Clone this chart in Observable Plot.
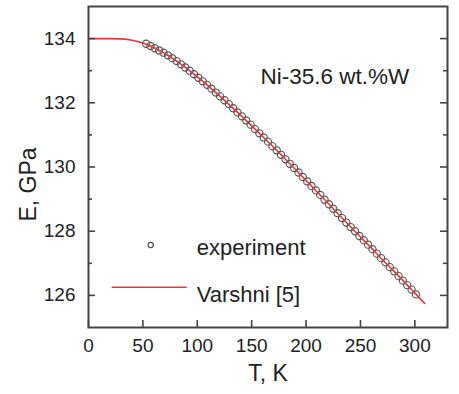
<!DOCTYPE html>
<html><head><meta charset="utf-8">
<script src="https://cdn.jsdelivr.net/npm/d3@7"></script>
<script src="https://cdn.jsdelivr.net/npm/@observablehq/plot@0.6"></script>
<style>body{margin:0;background:#fff} #chart{width:459px;height:394px}</style>
</head><body><div id="chart"></div>
<script>
// Experimental points (T in K, E in GPa)
const expT = [53,57,61,65,69,73,77,81,85,89,93,97,101,105,109,113,117,121,125,129,133,137,141,145,149,153,157,161,165,169,173,177,181,185,189,193,197,201,205,209,213,217,221,225,229,233,237,241,245,249,253,257,261,265,269,273,277,281,285,289,293,297,301];
const expE = [133.84,133.77,133.70,133.63,133.56,133.48,133.39,133.30,133.20,133.10,133.00,132.89,132.78,132.67,132.56,132.44,132.32,132.20,132.08,131.96,131.83,131.70,131.58,131.45,131.32,131.18,131.05,130.92,130.79,130.65,130.52,130.38,130.24,130.10,129.97,129.83,129.69,129.55,129.41,129.27,129.13,128.98,128.84,128.70,128.56,128.41,128.27,128.13,128.00,127.85,127.72,127.58,127.44,127.30,127.16,127.03,126.88,126.75,126.60,126.46,126.32,126.18,126.03];
// Varshni fit curve
const fitT = [0,10,20,30,40,50,60,70,80,90,100,110,120,130,140,150,160,170,180,190,200,210,220,230,240,250,260,270,280,290,300,309];
const fitE = [134.00,134.00,134.00,133.99,133.95,133.86,133.72,133.54,133.32,133.08,132.81,132.53,132.23,131.92,131.61,131.28,130.95,130.62,130.28,129.93,129.58,129.23,128.88,128.52,128.17,127.82,127.48,127.12,126.78,126.43,126.07,125.75];

const xTicks = [0,50,100,150,200,250,300];
const yTicksMajor = [126,128,130,132,134];
const yTicksMinor = [127,129,131,133];
const xLabel = "T, K";
const yLabel = "E, GPa";
const sampleLabel = "Ni-35.6 wt.%W";
const legendLabels = ["experiment", "Varshni [5]"];

const FONT = "'Liberation Sans', Arial, Helvetica, sans-serif";
const INK = "#222";
const FRAME = "#444";
const RED = "#e23a3a";

const W = 459, H = 394, ML = 88, MR = 12, MT = 6, MB = 67;
const FW = W - ML - MR, FH = H - MT - MB;
const MAJ = 7, MIN = 4;

const expData = expT.map((t, i) => ({T: t, E: expE[i]}));
const fitData = fitT.map((t, i) => ({T: t, E: fitE[i]}));

const tickStyle = {stroke: FRAME, strokeWidth: 1.6};

const plot = Plot.plot({
  width: W,
  height: H,
  marginLeft: ML,
  marginRight: MR,
  marginTop: MT,
  marginBottom: MB,
  style: {fontFamily: FONT, fontSize: "19px", color: INK, background: "#fff"},
  x: {domain: [0, 330]},
  y: {domain: [125, 135]},
  marks: [
    Plot.dot(expData, {x: "T", y: "E", r: 3.6, stroke: "#555", strokeWidth: 1.1, fill: "none"}),
    Plot.line(fitData, {x: "T", y: "E", stroke: RED, strokeWidth: 1.6, curve: "monotone-x"}),
    Plot.axisX({ticks: xTicks, tickSize: 0, tickPadding: 11, label: null, fill: INK}),
    Plot.axisY({ticks: yTicksMajor, tickSize: 0, tickPadding: 13, label: null, fill: INK}),
    // inward ticks on bottom, left and right edges
    Plot.tickX(xTicks, {x: d => d, insetTop: FH - MAJ, ...tickStyle}),
    Plot.tickY(yTicksMajor, {y: d => d, insetRight: FW - MAJ, ...tickStyle}),
    Plot.tickY(yTicksMinor, {y: d => d, insetRight: FW - MIN, ...tickStyle}),
    Plot.tickY(yTicksMajor, {y: d => d, insetLeft: FW - MAJ, ...tickStyle}),
    Plot.tickY(yTicksMinor, {y: d => d, insetLeft: FW - MIN, ...tickStyle}),
    Plot.frame({stroke: FRAME, strokeWidth: 2}),
    Plot.text([xLabel], {frameAnchor: "bottom", dy: 46, lineAnchor: "middle", fontSize: 23, fill: INK}),
    Plot.text([sampleLabel], {frameAnchor: "top-left", dx: 172, dy: 70, textAnchor: "start", lineAnchor: "middle", fontSize: 22.5, fill: INK})
  ]
});
document.getElementById("chart").appendChild(plot);

// Rotated y label and legend
const svg = d3.select(plot);
svg.append("text")
  .attr("transform", `translate(${ML - 52},${MT + 178.5}) rotate(-90)`)
  .attr("text-anchor", "middle").attr("font-family", FONT).attr("font-size", 23).attr("fill", INK)
  .text(yLabel);

const lg = svg.append("g").attr("font-family", FONT).attr("font-size", 22).attr("fill", INK).attr("text-anchor", "start");
lg.append("circle").attr("cx", ML + 62.7).attr("cy", MT + 239).attr("r", 2.6)
  .attr("fill", "none").attr("stroke", "#555").attr("stroke-width", 1.2);
lg.append("line").attr("x1", ML + 23.7).attr("x2", ML + 98.7).attr("y1", MT + 281.3).attr("y2", MT + 281.3)
  .attr("stroke", RED).attr("stroke-width", 1.6);
lg.append("text").attr("x", ML + 108.7).attr("y", MT + 249).text(legendLabels[0]);
lg.append("text").attr("x", ML + 108.7).attr("y", MT + 295.7).text(legendLabels[1]);
</script>
</body></html>
